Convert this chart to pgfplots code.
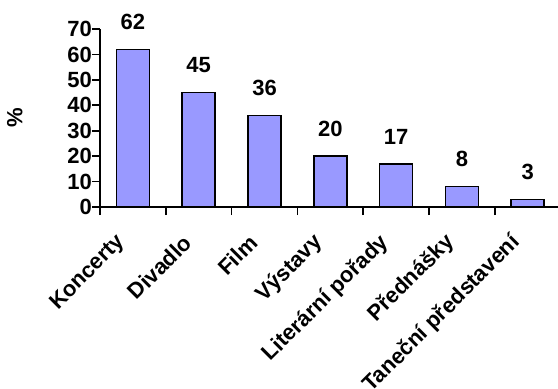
\documentclass[border=0pt]{standalone}
\usepackage{fontspec}
\setmainfont{Liberation Sans}
\usepackage{pgfplots}
\pgfplotsset{compat=1.18}
\definecolor{barblue}{HTML}{9999FF}

\newcommand{\lblfont}{\fontsize{22bp}{25bp}\selectfont\bfseries}

\begin{document}
\begin{tikzpicture}
% page frame, measured from the lower-left corner of the plot area
\useasboundingbox (-100bp,-182bp) rectangle (458bp,207bp);
\begin{axis}[
  scale only axis,
  width=458bp, height=178bp,
  xmin=-0.5, xmax=6.46,
  ymin=0, ymax=70,
  clip=false,
  axis lines=left,
  axis line style={-, line width=1.6bp, black},
  ytick={0,10,...,70},
  xtick={0,...,6},
  xticklabels={Koncerty, Divadlo, Film, Výstavy, Literární pořady, Přednášky, Taneční představení},
  minor xtick={-0.5,0.5,1.5,2.5,3.5,4.5,5.5},
  tick align=outside,
  major tick length=8bp,
  minor tick length=8bp,
  major x tick style={draw=none},
  every tick/.style={line width=1.6bp, black},
  minor x tick style={line width=1.6bp, black},
  /pgf/number format/assume math mode=true,
  yticklabel style={font=\lblfont, inner sep=0bp},
  xticklabel style={font=\lblfont, xshift=-11bp, yshift=-24bp, rotate=45, anchor=east, inner sep=0pt},
  ylabel={\%},
  ylabel style={font=\lblfont, at={(axis description cs:-0.186,0.5)}, anchor=center},
]
\addplot[
  ybar, bar width=33bp,
  fill=barblue, draw=black, line width=1.5bp,
  nodes near coords,
  every node near coord/.append style={font=\lblfont, black, anchor=south, inner sep=0pt, yshift=19bp},
] coordinates {
  (0,62) (1,45) (2,36) (3,20) (4,17) (5,8) (6,3)
};
\end{axis}
\end{tikzpicture}
\end{document}
